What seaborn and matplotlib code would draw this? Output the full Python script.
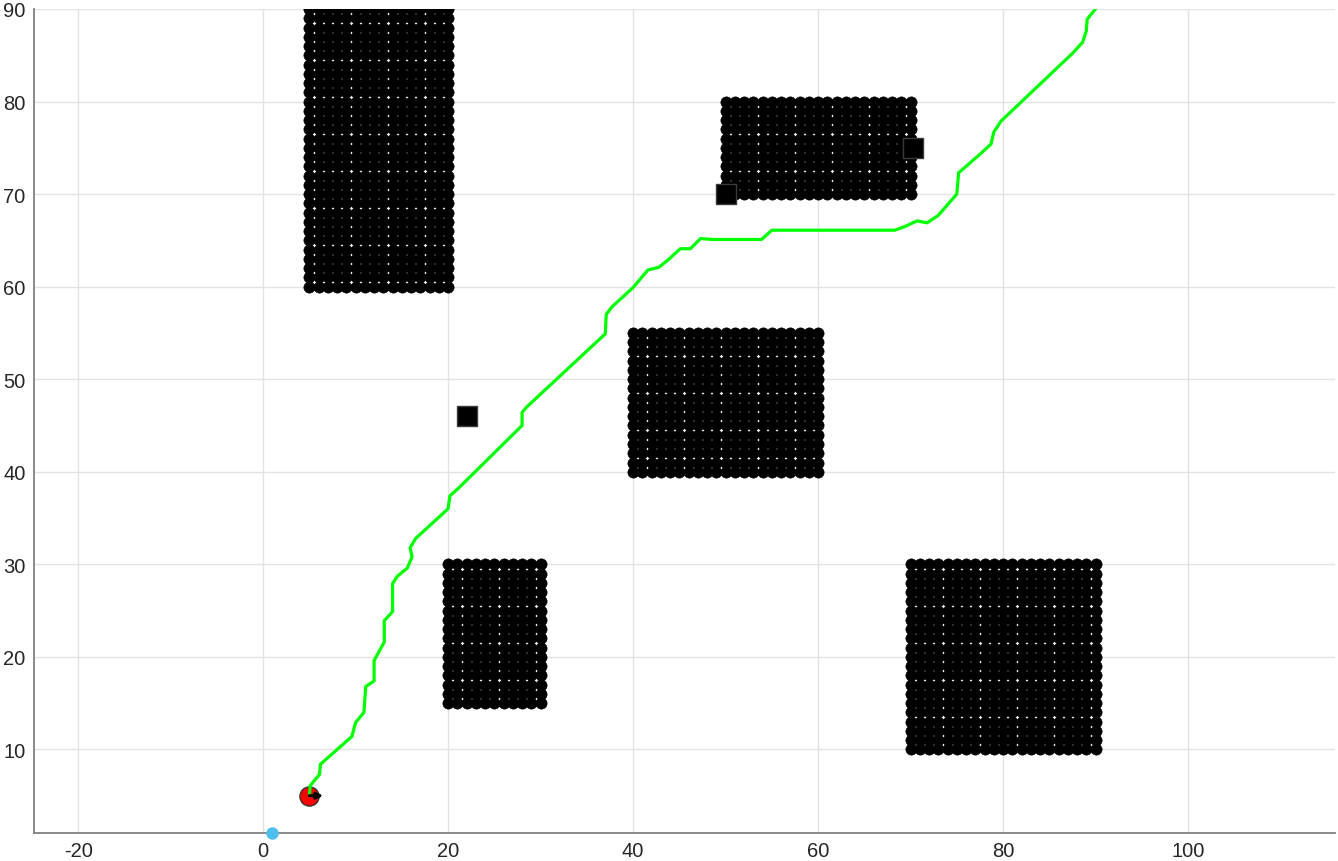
import numpy as np
import pandas as pd
import matplotlib
matplotlib.use('Agg')
import matplotlib.pyplot as plt
import seaborn as sns

# Obstacle blocks (filled with a 1-unit grid of points)
obs_x0 = [5, 50, 40, 20, 70]
obs_x1 = [20, 70, 60, 30, 90]
obs_y0 = [60, 70, 40, 15, 10]
obs_y1 = [90, 80, 55, 30, 30]

# Planned path
path_x = [5, 5.1, 6.1, 6.2, 9.6, 10, 10.9, 11.1, 12, 12, 13.1, 13.1, 14, 14, 14.5, 15.6,
          16.1, 15.9, 16.5, 20, 20.2, 21.1, 28, 28, 28.5, 37, 37.1, 37.7, 40, 41.6, 42.8,
          43.8, 45.1, 46.2, 47.3, 48.5, 53.9, 55, 68.3, 69.4, 70.7, 71.8, 73, 75, 75.2,
          77.5, 78.7, 79, 79.8, 87.5, 88.6, 89, 89.1, 90]
path_y = [5, 6.1, 7.3, 8.4, 11.4, 12.9, 14, 16.8, 17.4, 19.6, 21.6, 23.9, 24.9, 27.9, 28.7, 29.6,
          30.8, 31.8, 32.8, 36, 37.4, 38.2, 45, 46.4, 47, 54.9, 57, 57.8, 59.9, 61.8, 62.1,
          62.9, 64.1, 64.1, 65.2, 65.1, 65.1, 66.1, 66.1, 66.5, 67.1, 66.9, 67.7, 70, 72.3,
          74.3, 75.4, 76.7, 77.9, 85.2, 86.4, 87.6, 88.9, 90]

# Extra markers
square_x = [22, 50, 70.3]
square_y = [46, 70, 75]
robot_x, robot_y, robot_dx = 5, 5, 1.5
origin_x, origin_y = 1, 1

x_ticks = [-20, 0, 20, 40, 60, 80, 100]
y_ticks = [10, 20, 30, 40, 50, 60, 70, 80, 90]

sns.set_style('white')
plt.rcParams['font.family'] = ['Liberation Sans', 'DejaVu Sans']
plt.rcParams['axes.unicode_minus'] = False

obs = []
for x0, x1, y0, y1 in zip(obs_x0, obs_x1, obs_y0, obs_y1):
    gx, gy = np.meshgrid(np.arange(x0, x1 + 1), np.arange(y0, y1 + 1))
    obs.append(pd.DataFrame({'x': gx.ravel(), 'y': gy.ravel()}))
obs_df = pd.concat(obs, ignore_index=True)
path_df = pd.DataFrame({'x': path_x, 'y': path_y})

fig = plt.figure(figsize=(13.38, 8.62), dpi=100)
ax = fig.add_axes([0.0252, 0.0328, 0.9726, 0.9556])

sns.scatterplot(data=obs_df, x='x', y='y', ax=ax, s=66, color='black',
                edgecolor='black', linewidth=0.4, zorder=2, legend=False)
sns.scatterplot(x=square_x, y=square_y, ax=ax, marker='s', s=195, color='black',
                edgecolor='#3a3a3a', linewidth=1, zorder=3, legend=False)
sns.scatterplot(x=[robot_x], y=[robot_y], ax=ax, s=190, color='red',
                edgecolor='#333333', linewidth=1, zorder=4, legend=False)
sns.lineplot(data=path_df, x='x', y='y', ax=ax, sort=False, color='#00ff00',
             linewidth=2.3, zorder=5, estimator=None)
ax.annotate('', xy=(robot_x + robot_dx, robot_y), xytext=(robot_x, robot_y),
            arrowprops=dict(arrowstyle='-|>', color='black', lw=2.2,
                            mutation_scale=9, shrinkA=0, shrinkB=0), zorder=6)
sns.scatterplot(x=[origin_x], y=[origin_y], ax=ax, s=80, color='#4DBEEE',
                linewidth=0, zorder=7, legend=False, clip_on=False)

ax.set_xlim(-24.8, 115.9)
ax.set_ylim(1, 90)
ax.set_xticks(x_ticks)
ax.set_yticks(y_ticks)
ax.set_xlabel('')
ax.set_ylabel('')
ax.grid(True, color='#e3e3e3', linewidth=1)
ax.set_axisbelow(True)
for side in ['top', 'right']:
    ax.spines[side].set_visible(False)
for side in ['left', 'bottom']:
    ax.spines[side].set_color('#808080')
    ax.spines[side].set_linewidth(1.3)
ax.tick_params(direction='in', length=5, width=1, color='#555555',
               labelsize=14.5, labelcolor='#262626', pad=6)

fig.savefig('out.png', dpi=100)
